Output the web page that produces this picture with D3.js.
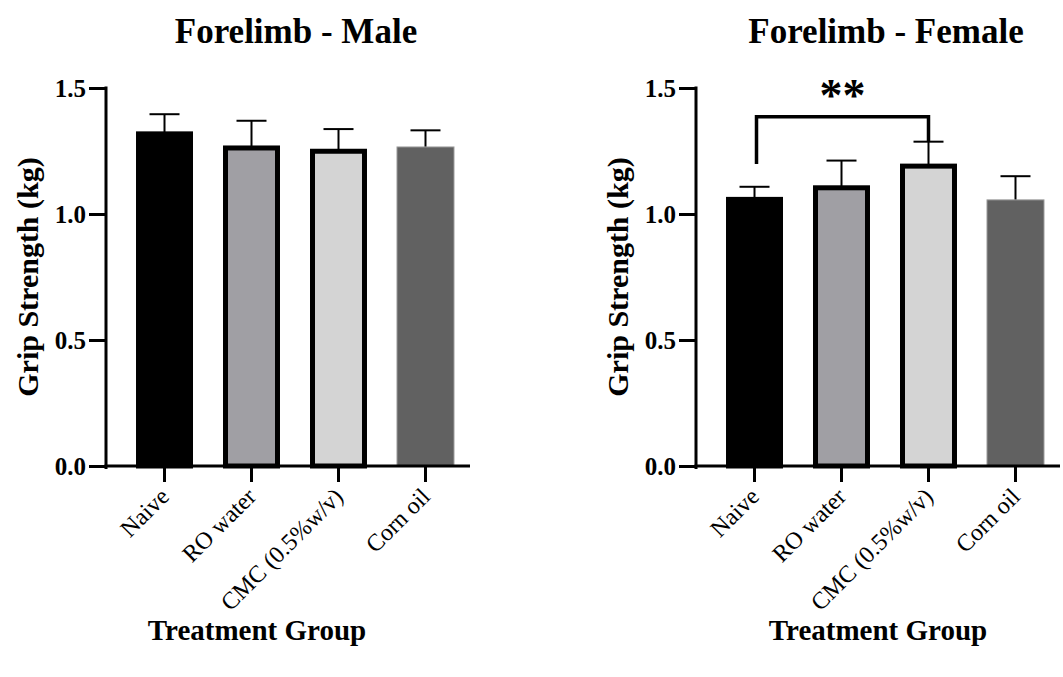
<!DOCTYPE html>
<html>
<head>
<meta charset="utf-8">
<script src="https://cdn.jsdelivr.net/npm/d3@7"></script>
<style>
  html, body { margin: 0; padding: 0; background: #fff; }
  svg { display: block; }
  text { font-family: "Liberation Serif", "Times New Roman", serif; fill: #000; }
</style>
</head>
<body>
<svg id="chart" width="1063" height="677"></svg>
<script>
// Treatment groups and bar fills
const groups = ["Naive", "RO water", "CMC (0.5%w/v)", "Corn oil"];
const fills = ["#000000", "#a09fa4", "#d4d4d4", "#616161"];

// Mean grip strength (kg) and SD per group
const maleMeans = [1.318, 1.262, 1.249, 1.266];
const maleSD = [0.078, 0.108, 0.088, 0.066];
const femaleMeans = [1.058, 1.104, 1.190, 1.056];
const femaleSD = [0.050, 0.108, 0.097, 0.094];

// Y axis ticks
const yTicks = [0.0, 0.5, 1.0, 1.5];

// Significance bracket (female): between group 0 and group 2
const femaleSig = { from: 0, to: 2, level: 1.386, label: "**" };

const svg = d3.select("#chart");

function panel(x0, title, means, sds, sig, xTitleOffset) {
  const y = d3.scaleLinear().domain([0, 1.5]).range([466, 88]);
  const x = d3.scaleBand().domain(groups).range([x0, x0 + 378])
    .paddingInner(0.345).paddingOuter(0.345);
  const axisLen = 364;

  const g = svg.append("g");

  // title
  g.append("text")
    .attr("x", x0 + 190).attr("y", 43)
    .attr("text-anchor", "middle")
    .attr("font-size", 35).attr("font-weight", "bold")
    .text(title);

  const bars = groups.map((d, i) => ({ name: d, mean: means[i], sd: sds[i], fill: fills[i], i }));

  // error bars (upper only), drawn behind bars
  g.selectAll(".err").data(bars).join("line")
    .attr("x1", d => x(d.name) + x.bandwidth() / 2)
    .attr("x2", d => x(d.name) + x.bandwidth() / 2)
    .attr("y1", d => y(d.mean))
    .attr("y2", d => y(d.mean + d.sd))
    .attr("stroke", "#000").attr("stroke-width", 2);
  g.selectAll(".cap").data(bars).join("line")
    .attr("x1", d => x(d.name) + x.bandwidth() / 2 - 15)
    .attr("x2", d => x(d.name) + x.bandwidth() / 2 + 15)
    .attr("y1", d => y(d.mean + d.sd))
    .attr("y2", d => y(d.mean + d.sd))
    .attr("stroke", "#000").attr("stroke-width", 2);

  // bars
  g.selectAll(".bar").data(bars).join("rect")
    .attr("x", d => x(d.name) + (d.i === 3 ? 0 : 2.5))
    .attr("width", d => x.bandwidth() - (d.i === 3 ? 0 : 5))
    .attr("y", d => y(d.mean))
    .attr("height", d => y(0) - y(d.mean))
    .attr("fill", d => d.fill)
    .attr("stroke", d => d.i === 3 ? "#9a9a9a" : "#000")
    .attr("stroke-width", d => d.i === 3 ? 1 : 5);

  // y axis
  const yAxis = d3.axisLeft(y).tickValues(yTicks).tickFormat(d3.format(".1f"))
    .tickSize(17).tickSizeOuter(0).tickPadding(3);
  const ya = g.append("g").attr("transform", `translate(${x0},0)`).call(yAxis);
  ya.select(".domain").attr("stroke-width", 3).attr("d", `M0,${y(1.5) - 1.5}V${y(0) + 3}`);
  ya.selectAll(".tick line").attr("stroke-width", 3);
  ya.selectAll(".tick text")
    .attr("font-family", "Liberation Serif, serif")
    .attr("font-size", 25).attr("font-weight", "bold").attr("fill", "#000")
    .attr("dy", "0.34em");

  // x axis
  const xAxis = d3.axisBottom(x).tickSize(16).tickSizeOuter(0).tickFormat(() => "");
  const xa = g.append("g").attr("transform", `translate(0,${y(0)})`).call(xAxis);
  xa.select(".domain").attr("stroke-width", 3).attr("d", `M${x0 - 1.5},0H${x0 + axisLen}`);
  xa.selectAll(".tick line").attr("stroke-width", 3);

  // rotated category labels
  g.selectAll(".xlab").data(groups).join("text")
    .attr("transform", d => `translate(${x(d) + x.bandwidth() / 2 + 6},${y(0) + 32}) rotate(-45)`)
    .attr("text-anchor", "end")
    .attr("font-size", 24)
    .text(d => d);

  // axis titles
  g.append("text")
    .attr("transform", `translate(${x0 - 79},${(y(0) + y(1.5)) / 2}) rotate(-90)`)
    .attr("text-anchor", "middle")
    .attr("dy", "0.35em")
    .attr("font-size", 30).attr("font-weight", "bold")
    .text("Grip Strength (kg)");
  g.append("text")
    .attr("x", x0 + xTitleOffset).attr("y", 640)
    .attr("text-anchor", "middle")
    .attr("font-size", 29).attr("font-weight", "bold")
    .text("Treatment Group");

  // significance bracket
  if (sig) {
    const a = bars[sig.from], b = bars[sig.to];
    const xa0 = x(a.name) + x.bandwidth() / 2 + 2;
    const xb0 = x(b.name) + x.bandwidth() / 2;
    const yl = y(sig.level);
    const ya0 = y(a.mean + a.sd + 0.09);
    const yb0 = y(b.mean + b.sd);
    g.append("path")
      .attr("d", `M${xa0},${ya0}V${yl}H${xb0}V${yb0}`)
      .attr("fill", "none").attr("stroke", "#000").attr("stroke-width", 3.5);
    g.append("text")
      .attr("x", (xa0 + xb0) / 2).attr("y", yl - 6)
      .attr("text-anchor", "middle")
      .attr("font-family", "DejaVu Sans, sans-serif")
      .attr("font-size", 46).attr("font-weight", "bold")
      .text(sig.label);
  }
}

panel(106, "Forelimb - Male", maleMeans, maleSD, null, 151);
panel(696, "Forelimb - Female", femaleMeans, femaleSD, femaleSig, 182);
</script>
</body>
</html>
